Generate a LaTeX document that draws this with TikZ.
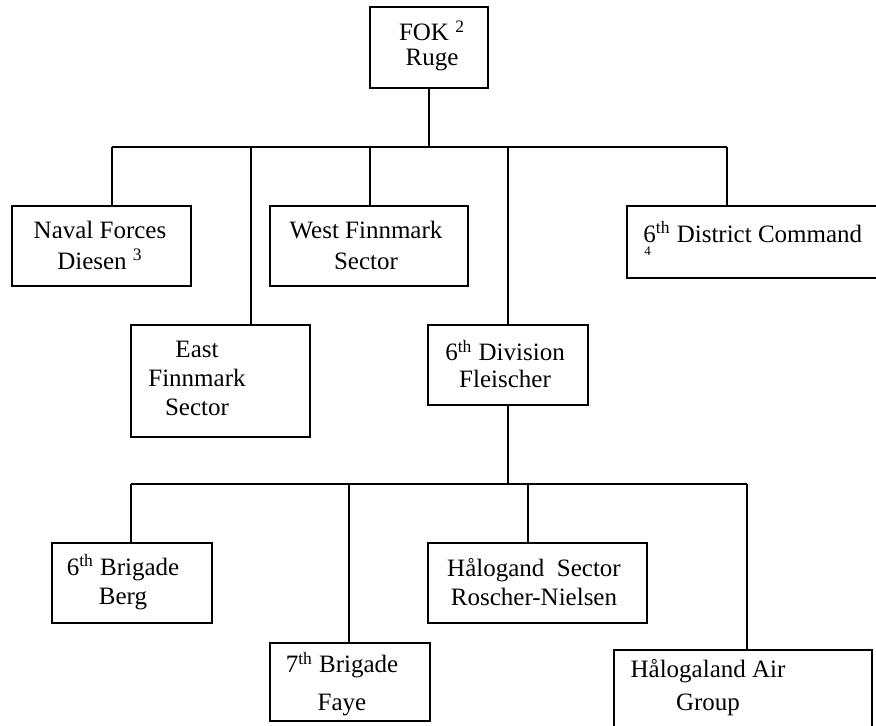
\documentclass[tikz,border=0pt]{standalone}
\usepackage{fontspec}
\setmainfont{Liberation Serif}
\usepackage{tikz}

\tikzset{
    unit/.style={draw, line width=0.9pt, inner sep=0pt},
    unittext/.style={align=center, inner sep=0pt, font=\fontsize{12.5}{14.5}\selectfont},
    link/.style={line width=0.9pt}
}

\begin{document}
\begin{tikzpicture}[x=0.5pt, y=-0.5pt]
    \useasboundingbox (0,0) rectangle (876,726);

    % 方框
    \node[unit, minimum width=59pt,  minimum height=40.5pt] (fok)   at (429,47.5)  {};
    \node[unit, minimum width=89.5pt,minimum height=40pt]   (naval) at (101.5,246) {};
    \node[unit, minimum width=99pt,  minimum height=40pt]   (west)  at (369,246)   {};
    \node[unit, minimum width=125pt, minimum height=36pt]   (dist)  at (752,242)   {};
    \node[unit, minimum width=89.5pt,minimum height=56pt]   (east)  at (220.5,381) {};
    \node[unit, minimum width=80pt,  minimum height=40pt]   (div)   at (508,365)   {};
    \node[unit, minimum width=80pt,  minimum height=40pt]   (berg)  at (132,583)   {};
    \node[unit, minimum width=109.5pt,minimum height=40pt]  (halo)  at (537.5,583) {};
    \node[unit, minimum width=80pt,  minimum height=39pt]   (faye)  at (350,682)   {};
    \node[unit, minimum width=129pt, minimum height=45pt]   (air)   at (743,695)   {};

    % 文字
    \node[unittext] (fok-t)   at (432,46)  {FOK \textsuperscript{2}\\[-2pt]Ruge};
    \node[unittext] (naval-t) at (100,245) {Naval Forces\\[1pt]Diesen \textsuperscript{3}};
    \node[unittext] (west-t)  at (366,245) {West Finnmark\\[1pt]Sector};
    \node[unittext, anchor=west] (dist-t) at (643,232) {6\textsuperscript{th} District Command};
    \node[unittext, anchor=west, font=\fontsize{6.5}{8}\selectfont] (dist-n) at (644,251) {4};
    \node[unittext] (east-t)  at (197,378) {East\\Finnmark\\Sector};
    \node[unittext] (div-t)   at (505,364) {6\textsuperscript{th} Division\\[-1pt]Fleischer};
    \node[unittext] (berg-t)  at (123,582) {6\textsuperscript{th} Brigade\\Berg};
    \node[unittext] (halo-t)  at (534,582) {Hålogand\ \ Sector\\Roscher-Nielsen};
    \node[unittext] (faye-t)  at (342,684) {7\textsuperscript{th} Brigade\\[4.5pt]Faye};
    \node[unittext] (air-t)   at (708,688) {Hålogaland Air\\[2pt]Group};

    % 第一层连线
    \coordinate (bus1) at (429,147);
    \draw[link] (fok.south) -- (bus1);
    \draw[link] (bus1 -| 112,0) -- (bus1 -| 727,0);
    \foreach \x/\n in {112/naval, 251/east, 370/west, 508/div, 727/dist} {
        \coordinate (b-\n) at (\x,147);
        \draw[link] (b-\n) -- (b-\n |- \n.north);
    }

    % 第二层连线
    \coordinate (bus2) at (508,484);
    \draw[link] (div.south) -- (bus2);
    \draw[link] (bus2 -| 131,0) -- (bus2 -| 747,0);
    \foreach \x/\n in {131/berg, 349/faye, 528/halo, 747/air} {
        \coordinate (c-\n) at (\x,484);
        \draw[link] (c-\n) -- (c-\n |- \n.north);
    }
\end{tikzpicture}
\end{document}
